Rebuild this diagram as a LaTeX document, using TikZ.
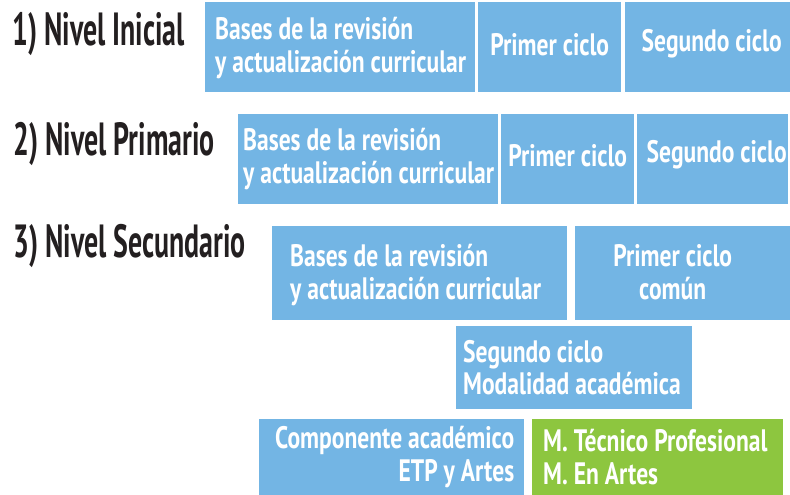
\documentclass[tikz,border=0pt]{standalone}
\usepackage{fontspec}
\setmainfont{PT Sans}
\newfontfamily\condfont[FakeStretch=0.76]{PT Sans}
\newfontfamily\headfont[FakeStretch=0.60]{PT Sans}
\definecolor{cblue}{RGB}{115,181,228}
\definecolor{cgreen}{RGB}{141,198,63}
\definecolor{cdark}{RGB}{35,31,32}
\tikzset{
  blk/.style={fill=cblue, draw=none, inner sep=0pt, anchor=north west},
  gblk/.style={fill=cgreen, draw=none, inner sep=0pt, anchor=north west},
  btxt/.style={text=white, inner sep=0pt, font=\condfont\bfseries\fontsize{31}{32.5}\selectfont},
  htxt/.style={text=cdark, inner sep=0pt, anchor=base west, font=\headfont\bfseries\fontsize{46.5}{48}\selectfont},
}
\begin{document}
\begin{tikzpicture}[x=1pt,y=-1pt]
\useasboundingbox (0,0) rectangle (790,495);
% headings
\node[htxt] (h1) at (12,46) {1) Nivel Inicial};
\node[htxt] (h2) at (13,155) {2) Nivel Primario};
\node[htxt] (h3) at (13,257) {3) Nivel Secundario};
% row 1
\node[blk, minimum width=270pt, minimum height=90pt] (i1) at (205,2) {};
\node[blk, minimum width=143pt, minimum height=90pt] (i2) at (478,2) {};
\node[blk, minimum width=165pt, minimum height=90pt] (i3) at (625,2) {};
\node[btxt, anchor=west, align=left] (ti1) at ([xshift=10pt,yshift=-1pt]i1.west) {Bases de la revisión\\y actualización curricular};
\node[btxt] (ti2) at ([yshift=3pt]i2.center) {Primer ciclo};
\node[btxt] (ti3) at ([xshift=4pt,yshift=3pt]i3.center) {Segundo ciclo};
% row 2
\node[blk, minimum width=260pt, minimum height=90pt] (p1) at (238,114) {};
\node[blk, minimum width=133pt, minimum height=90pt] (p2) at (501,114) {};
\node[blk, minimum width=151pt, minimum height=90pt] (p3) at (637,114) {};
\node[btxt, anchor=west, align=left] (tp1) at ([xshift=5pt]p1.west) {Bases de la revisión\\y actualización curricular};
\node[btxt] (tp2) at ([yshift=4pt]p2.center) {Primer ciclo};
\node[btxt] (tp3) at ([xshift=4pt,yshift=4pt]p3.center) {Segundo ciclo};
% row 3
\node[blk, minimum width=295pt, minimum height=94pt] (s1) at (272,226) {};
\node[blk, minimum width=215pt, minimum height=94pt] (s2) at (575,226) {};
\node[btxt, anchor=west, align=left] (ts1) at ([xshift=18pt,yshift=-2pt]s1.west) {Bases de la revisión\\y actualización curricular};
\node[btxt, align=center] (ts2) at ([xshift=-10pt,yshift=1pt]s2.center) {Primer ciclo\\común};
\node[blk, minimum width=236pt, minimum height=83pt] (sc) at (456,326) {};
\node[btxt, anchor=west, align=left] (tsc) at ([xshift=7pt]sc.west) {Segundo ciclo\\Modalidad académica};
\node[blk, minimum width=265pt, minimum height=76pt] (ca) at (259,419) {};
\node[gblk, minimum width=251pt, minimum height=76pt] (mt) at (532,419) {};
\node[btxt, anchor=east, align=right] (tca) at ([xshift=-10pt]ca.east) {Componente académico\\ETP y Artes};
\node[btxt, anchor=west, align=left] (tmt) at ([xshift=11pt]mt.west) {M. Técnico Profesional\\M. En Artes};
\end{tikzpicture}
\end{document}
